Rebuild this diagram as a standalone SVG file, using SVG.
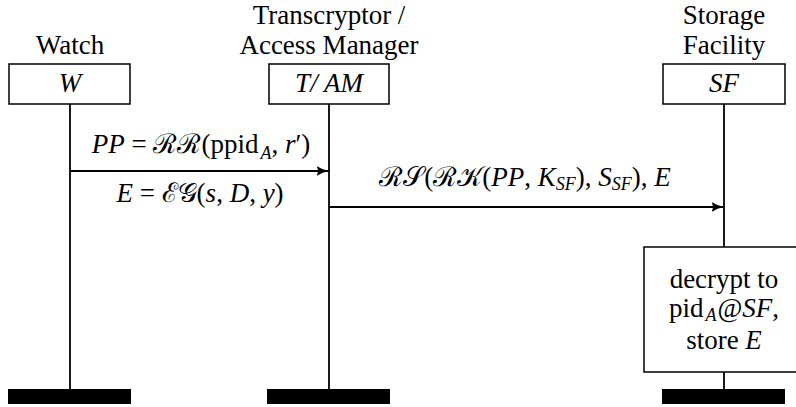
<svg xmlns="http://www.w3.org/2000/svg" width="796" height="407" viewBox="0 0 796 407">
<defs>
<style>
text{font-family:"Liberation Serif","DejaVu Serif",serif;font-size:27px;fill:#000;text-anchor:middle}
.i{font-style:italic}
.s{font-size:18px}
.box{fill:#fff;stroke:#000;stroke-width:1.5}
.life{stroke:#000;stroke-width:1.8;fill:none}
.bar{fill:#000}
.msg{stroke:#000;stroke-width:1.8;fill:none;marker-end:url(#ah)}
</style>
<marker id="ah" viewBox="0 0 13 11" refX="12.5" refY="5.5" markerWidth="13" markerHeight="11" markerUnits="userSpaceOnUse" orient="auto">
<path d="M0,0.5 Q5.5,4.3 12.5,5.5 Q5.5,6.7 0,10.5 Q2.8,5.5 0,0.5 Z" fill="#000"/>
</marker>
</defs>
<g id="lifelines">
<line class="life" x1="70" y1="104" x2="70" y2="390"/>
<line class="life" x1="329" y1="104" x2="329" y2="390"/>
<line class="life" x1="724" y1="104" x2="724" y2="390"/>
</g>
<g id="watch">
<text x="70" y="54">Watch</text>
<rect class="box" x="9" y="64" width="121" height="40"/>
<text class="i" x="70" y="92">W</text>
<rect class="bar" x="8" y="389" width="123" height="15"/>
</g>
<g id="transcryptor">
<text x="329" y="24">Transcryptor /</text>
<text x="329" y="54">Access Manager</text>
<rect class="box" x="269" y="64" width="120" height="40"/>
<text class="i" x="329" y="92">T/ AM</text>
<rect class="bar" x="267" y="389" width="123" height="15"/>
</g>
<g id="storage">
<text x="724" y="24">Storage</text>
<text x="724" y="54">Facility</text>
<rect class="box" x="663" y="64" width="122" height="40"/>
<text class="i" x="724" y="92">SF</text>
<rect class="bar" x="662" y="389" width="123" height="15"/>
</g>
<g id="decrypt">
<rect class="box" x="644" y="247" width="160" height="125"/>
<text x="724" y="288">decrypt to</text>
<text x="724" y="317">pid<tspan class="s i" dx="2" dy="4">A</tspan><tspan dx="1" dy="-4">@</tspan><tspan class="i">SF</tspan>,</text>
<text x="724" y="349">store <tspan class="i">E</tspan></text>
</g>
<g id="connectors">
<line class="msg" x1="70" y1="171" x2="329" y2="171"/>
<text x="201" y="153"><tspan class="i">PP</tspan> = ℛℛ(ppid<tspan class="s i" dx="2" dy="6">A</tspan><tspan dy="-6">, </tspan><tspan class="i">r</tspan>′)</text>
<text x="200" y="202"><tspan class="i">E</tspan> = ℰ𝒢(<tspan class="i">s</tspan>, <tspan class="i">D</tspan>, <tspan class="i">y</tspan>)</text>
<line class="msg" x1="329" y1="207" x2="724" y2="207"/>
<text x="525" y="186">ℛ𝒮(ℛ𝒦(<tspan class="i">PP</tspan>, <tspan class="i">K</tspan><tspan class="s i" dy="4">SF</tspan><tspan dy="-4">), </tspan><tspan class="i">S</tspan><tspan class="s i" dy="4">SF</tspan><tspan dy="-4">), </tspan><tspan class="i">E</tspan></text>
</g>
</svg>
